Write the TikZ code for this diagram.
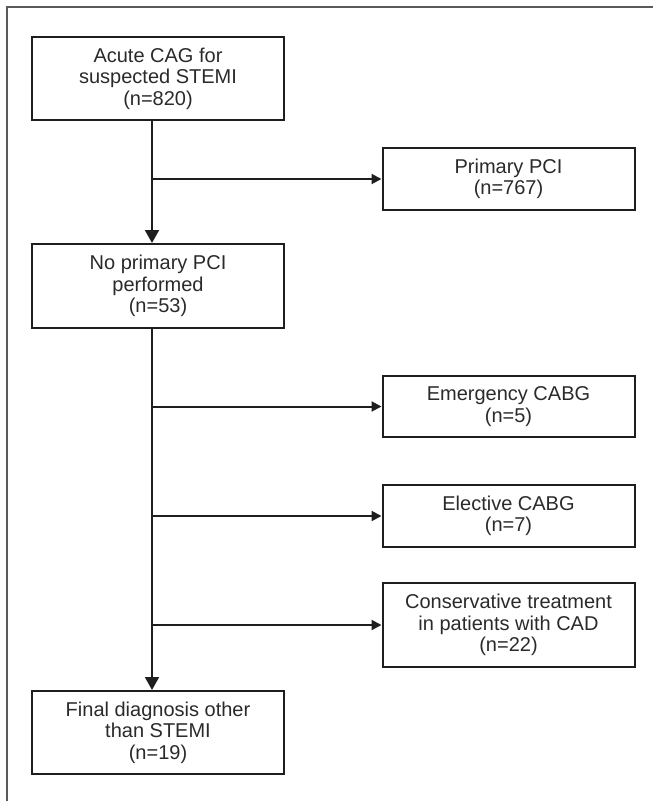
\documentclass[tikz,border=0pt]{standalone}
\usepackage{fontspec}
\setmainfont{Liberation Sans}
\usetikzlibrary{arrows.meta}
\definecolor{linecol}{HTML}{1E1E1E}
\definecolor{txtcol}{HTML}{2A2A2A}
\definecolor{framecol}{HTML}{5A5A5A}
\tikzset{box/.style = {draw = linecol, line width = 2pt, inner sep = 0pt, minimum width = 252pt, align = center, text = txtcol, font = \fontsize{20}{21.5}\selectfont}}
\tikzset{down/.style = {draw = linecol, line width = 2pt, -{Triangle[length=13pt, width=14pt]}}}
\tikzset{side/.style = {draw = linecol, line width = 2pt, -{Triangle[length=10pt, width=10pt]}}}

\begin{document}
\begin{tikzpicture}[x=1pt, y=-1pt]
\useasboundingbox (0,0) rectangle (653,801);
\draw[framecol, line width=1.5pt] (7,801) -- (7,7) -- (653,7);
% left column
\node[box, minimum height=83pt] (acute) at (158,78.5) {Acute CAG for\\suspected STEMI\\(n=820)};
\node[box, minimum height=84pt] (nopci) at (158,286) {No primary PCI\\performed\\(n=53)};
\node[box, minimum height=83pt] (final) at (158,732.5) {Final diagnosis other\\than STEMI\\(n=19)};
% right column
\node[box, minimum height=62pt] (primary) at (508.5,179) {Primary PCI\\(n=767)};
\node[box, minimum height=61pt] (emerg) at (508.5,406.5) {Emergency CABG\\(n=5)};
\node[box, minimum height=62pt] (elect) at (508.5,516) {Elective CABG\\(n=7)};
\node[box, minimum height=84pt] (conserv) at (508.5,625) {Conservative treatment\\in patients with CAD\\(n=22)};
% connectors
\coordinate (trunk) at (152,0);
\draw[down] (acute.south -| trunk) -- (nopci.north -| trunk);
\draw[down] (nopci.south -| trunk) -- (final.north -| trunk);
\draw[side] (trunk |- primary.west) -- (primary.west);
\draw[side] (trunk |- emerg.west) -- (emerg.west);
\draw[side] (trunk |- elect.west) -- (elect.west);
\draw[side] (trunk |- conserv.west) -- (conserv.west);
\end{tikzpicture}
\end{document}
